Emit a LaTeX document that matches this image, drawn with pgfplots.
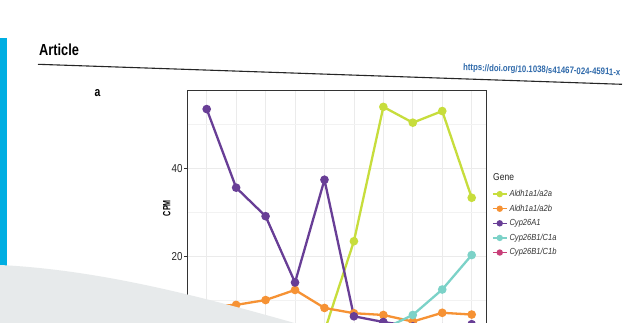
\documentclass[border=0pt]{standalone}
\usepackage{pgfplots}
\usepackage{pgfplotstable}
\pgfplotsset{compat=1.18}
\usepackage{graphicx}
\usepackage{fontspec}
\setmainfont{Liberation Sans}

\definecolor{limeA}{RGB}{199,221,60}
\definecolor{orangeB}{RGB}{246,146,52}
\definecolor{purpleC}{RGB}{104,62,150}
\definecolor{tealD}{RGB}{124,210,200}
\definecolor{magentaE}{RGB}{200,62,120}
\definecolor{sheet}{RGB}{231,234,235}
\definecolor{tabcyan}{RGB}{0,174,226}
\definecolor{doiblue}{RGB}{46,105,170}

% CPM per stage for each gene
\pgfplotstableread{
x  a2a    a2b   cypA   c1a    c1b
1  0.6    8.6   53.5   0.5    0.3
2  0.5    8.9   35.6   0.4    0.2
3  0.7    10.0  29.1   0.6    0.3
4  0.8    12.3  14.0   0.7    0.4
5  2.9    8.2   37.4   1.0    0.3
6  23.4   7.0   6.3    1.5    0.5
7  54.0   6.6   5.0    3.4    0.6
8  50.4   5.1   4.0    6.6    0.8
9  53.05  7.1   3.8    12.4   1.0
10 33.3   6.7   4.5    20.25  0.9
}\genedata

\begin{document}
\begin{tikzpicture}
\useasboundingbox (0bp,0bp) rectangle (643bp,-323bp);
\clip (0bp,0bp) rectangle (643bp,-323bp);
\fill[white] (0bp,0bp) rectangle (643bp,-323bp);

% page header
\begin{scope}[x=1bp,y=-1bp]
  \fill[tabcyan] (0,38) rectangle (7,300);
  \node[anchor=west, inner sep=0pt, font=\bfseries\fontsize{16bp}{18bp}\selectfont] at (39,49.5) {\scalebox{0.8}[1]{Article}};
  \draw[black!85, line width=1.1bp] (38,64.3) -- (622,84.3);
  \node[anchor=west, inner sep=0pt, rotate=-1.8, text=doiblue, font=\bfseries\fontsize{9.5bp}{11bp}\selectfont] at (463,68) {\scalebox{0.82}[1]{https://doi.org/10.1038/s41467-024-45911-x}};
  \node[inner sep=0pt, font=\bfseries\fontsize{13bp}{15bp}\selectfont] at (97.5,93) {\scalebox{0.8}[1]{a}};
  \node[anchor=west, inner sep=0pt, text=black!85, font=\fontsize{10bp}{12bp}\selectfont] at (493,176.7) {\scalebox{0.85}[1]{Gene}};
\end{scope}

\begin{axis}[
  at={(187.3bp,-355.8bp)}, anchor=south west,
  scale only axis, width=299.4bp, height=265.6bp,
  xmin=0.341, xmax=10.51, ymin=-2.7, ymax=57.8,
  axis background/.style={fill=white},
  xtick={1,...,10}, xticklabels={},
  ytick={20,40}, minor ytick={0,10,30,50},
  yticklabels={\scalebox{0.85}[1]{20},\scalebox{0.85}[1]{40}},
  tick align=outside, xtick pos=bottom, ytick pos=left,
  major tick length=3.5bp, minor tick length=0pt,
  tick style={black!80, line width=0.7bp},
  grid=both,
  major grid style={draw=black!8, line width=0.8bp},
  minor grid style={draw=black!5, line width=0.5bp},
  axis line style={black!80, line width=0.9bp},
  yticklabel style={font=\fontsize{11.5bp}{13bp}\selectfont, text=black!85, inner sep=1bp},
  ylabel={\scalebox{0.68}[1]{\textbf{CPM}}},
  ylabel style={at={(axis description cs:-0.0688,0.556)}, anchor=center, font=\fontsize{10.5bp}{12bp}\selectfont},
  legend style={at={(axis description cs:1.0177,0.626)}, anchor=north west,
    draw=none, fill=none, inner sep=0pt, outer sep=0pt,
    row sep=5.4bp, column sep=1.5bp,
    font=\fontsize{8.8bp}{10bp}\selectfont, text=black!80,
    nodes={inner sep=0.5bp, text height=6.5bp, text depth=1.7bp}},
  legend cell align=left,
  legend image code/.code={\draw[#1, line width=1.5bp, mark size=2.4bp, mark repeat=2, mark phase=2] plot coordinates {(0bp,0bp) (7bp,0bp) (14bp,0bp)};},
  every axis plot/.append style={line width=2.3bp, mark=*, mark size=3.1bp, mark options={line width=0.6bp}},
]
\addplot[color=limeA, mark options={fill=limeA}] table[x=x, y=a2a] {\genedata};
\addlegendentry{\scalebox{0.86}[1]{\itshape Aldh1a1/a2a}}
\addplot[color=orangeB, mark options={fill=orangeB}] table[x=x, y=a2b] {\genedata};
\addlegendentry{\scalebox{0.86}[1]{\itshape Aldh1a1/a2b}}
\addplot[color=purpleC, mark options={fill=purpleC}] table[x=x, y=cypA] {\genedata};
\addlegendentry{\scalebox{0.86}[1]{\itshape Cyp26A1}}
\addplot[color=tealD, mark options={fill=tealD}] table[x=x, y=c1a] {\genedata};
\addlegendentry{\scalebox{0.86}[1]{\itshape Cyp26B1/C1a}}
\addplot[color=magentaE, mark options={fill=magentaE}] table[x=x, y=c1b] {\genedata};
\addlegendentry{\scalebox{0.86}[1]{\itshape Cyp26B1/C1b}}
\end{axis}

% curled sheet in the foreground
\begin{scope}[x=1bp,y=-1bp]
  \fill[sheet] (0,265) .. controls (100,270) and (200,296) .. (305,326) -- (0,326) -- cycle;
\end{scope}
\end{tikzpicture}
\end{document}
